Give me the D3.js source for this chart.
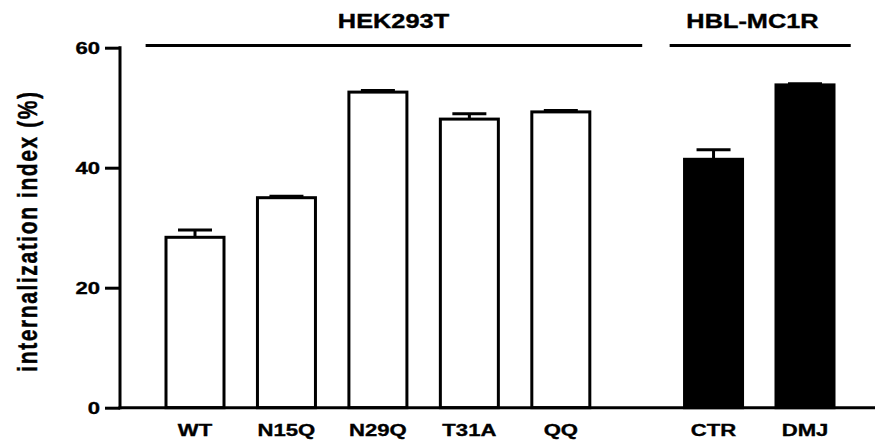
<!DOCTYPE html>
<html>
<head>
<meta charset="utf-8">
<script src="https://cdn.jsdelivr.net/npm/d3@7"></script>
<style>
  html, body { margin: 0; padding: 0; background: #fff; }
  svg { display: block; }
  text { font-family: "Liberation Sans", Arial, sans-serif; font-weight: bold; fill: #000; stroke: #000; stroke-width: 0.35px; }
</style>
</head>
<body>
<svg id="chart" width="875" height="444"></svg>
<script>
// Internalization index per construct / cell line
const categories = ["WT", "N15Q", "N29Q", "T31A", "QQ", "CTR", "DMJ"];
const values     = [28.4, 35.0, 52.6, 48.1, 49.3, 41.4, 53.8];
const errors     = [1.2, 0.25, 0.25, 0.9, 0.25, 1.6, 0.2];
const cellLines  = ["HEK293T", "HEK293T", "HEK293T", "HEK293T", "HEK293T", "HBL-MC1R", "HBL-MC1R"];
const groupNames = ["HEK293T", "HBL-MC1R"];
const yTicks     = [0, 20, 40, 60];

const svg = d3.select("#chart");
const W = 875, H = 444;
const stretch = 1.3;   // wide, heavy lettering

// slot index for each bar, with an extra gap between the two cell lines
const slot = (i) => i + (cellLines[i] === groupNames[1] ? 0.67 : 0);

const y = d3.scaleLinear().domain([0, 60]).range([407.7, 47.7]);
const x = d3.scaleLinear().domain([0, 6.67]).range([195, 805]);
const barW = 58;

// bars
const bars = svg.append("g");
bars.selectAll("rect")
  .data(values)
  .join("rect")
  .attr("x", (d, i) => x(slot(i)) - barW / 2)
  .attr("y", d => y(d))
  .attr("width", barW)
  .attr("height", d => y(0) - y(d))
  .attr("fill", (d, i) => cellLines[i] === groupNames[0] ? "#fff" : "#000")
  .attr("stroke", "#000")
  .attr("stroke-width", 3);

// error bars (upper half only)
const err = svg.append("g").attr("stroke", "#000").attr("stroke-width", 3);
values.forEach((v, i) => {
  const cx = x(slot(i));
  err.append("line").attr("x1", cx).attr("x2", cx).attr("y1", y(v)).attr("y2", y(v + errors[i]));
  err.append("line").attr("x1", cx - 17).attr("x2", cx + 17).attr("y1", y(v + errors[i])).attr("y2", y(v + errors[i]));
});

// y axis
const yAxis = svg.append("g").attr("transform", "translate(120,0)")
  .call(d3.axisLeft(y).tickValues(yTicks).tickSize(15).tickPadding(5).tickFormat(d3.format("d")));
yAxis.select(".domain").remove();
yAxis.selectAll(".tick line").attr("stroke", "#000").attr("stroke-width", 3);
yAxis.selectAll(".tick text")
  .attr("font-size", 17)
  .attr("font-family", "Liberation Sans, Arial, sans-serif")
  .attr("font-weight", "bold")
  .attr("text-anchor", "end")
  .attr("x", null)
  .attr("dy", null)
  .attr("transform", `translate(-20,6.2) scale(${stretch},1)`);
svg.append("line").attr("x1", 120).attr("x2", 120).attr("y1", y(60) - 1.5).attr("y2", y(0) + 1.5)
  .attr("stroke", "#000").attr("stroke-width", 3);

// x axis baseline
svg.append("line").attr("x1", 118.5).attr("x2", W).attr("y1", y(0)).attr("y2", y(0))
  .attr("stroke", "#000").attr("stroke-width", 3);

// category labels
svg.append("g").selectAll("text")
  .data(categories)
  .join("text")
  .attr("transform", (d, i) => `translate(${x(slot(i))},436) scale(${stretch},1)`)
  .attr("text-anchor", "middle")
  .attr("font-size", 17)
  .text(d => d);

// y axis title (glyph heights widened along with the rest of the figure)
svg.append("text")
  .attr("transform", `translate(37,231) scale(${stretch},1) rotate(-90)`)
  .attr("text-anchor", "middle")
  .attr("font-size", 21)
  .attr("letter-spacing", 1.6)
  .text("internalization index (%)");

// cell-line brackets
const brackets = [
  { name: groupNames[0], from: -0.54, to: 4.89, cx: 393.5 },
  { name: groupNames[1], from: 5.19, to: 7.17, cx: 752.5 }
];
brackets.forEach(b => {
  svg.append("line").attr("x1", x(b.from)).attr("x2", x(b.to)).attr("y1", 45.5).attr("y2", 45.5)
    .attr("stroke", "#000").attr("stroke-width", 3);
  svg.append("text")
    .attr("transform", `translate(${b.cx},28.3) scale(${stretch},1)`)
    .attr("text-anchor", "middle").attr("font-size", 19.5)
    .text(b.name);
});
</script>
</body>
</html>
